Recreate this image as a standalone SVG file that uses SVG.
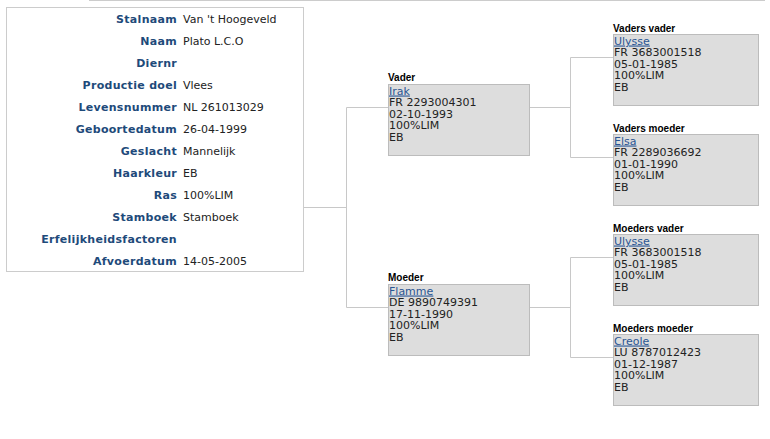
<svg xmlns="http://www.w3.org/2000/svg" width="770" height="439" viewBox="0 0 770 439">
<style>
text{font-family:"DejaVu Sans",Verdana,sans-serif;font-size:11px}
.lbl{font-weight:bold;fill:#1e4a7a;text-anchor:end;letter-spacing:0.3px}
.val{fill:#222}
.h{font-family:"Liberation Sans",Arial,sans-serif;font-size:10px;font-weight:bold;fill:#000}
.box{fill:#dddddd;stroke:#bcbcbc;stroke-width:1}
.lnk{fill:#2a5694;text-decoration:underline}
.t{fill:#222}
.con{stroke:#c8c8c8;stroke-width:1;fill:none}
</style>
<rect width="770" height="439" fill="#fff"/>
<line x1="89" y1="0.5" x2="765" y2="0.5" stroke="#cccccc"/>
<g id="info">
<rect x="6.5" y="7.5" width="297" height="264" fill="#fff" stroke="#cccccc"/>
<text class="lbl" x="177" y="23">Stalnaam</text><text class="val" x="183" y="23">Van 't Hoogeveld</text>
<text class="lbl" x="177" y="45">Naam</text><text class="val" x="183" y="45">Plato L.C.O</text>
<text class="lbl" x="177" y="67">Diernr</text>
<text class="lbl" x="177" y="89">Productie doel</text><text class="val" x="183" y="89">Vlees</text>
<text class="lbl" x="177" y="111">Levensnummer</text><text class="val" x="183" y="111">NL 261013029</text>
<text class="lbl" x="177" y="133">Geboortedatum</text><text class="val" x="183" y="133">26-04-1999</text>
<text class="lbl" x="177" y="155">Geslacht</text><text class="val" x="183" y="155">Mannelijk</text>
<text class="lbl" x="177" y="177">Haarkleur</text><text class="val" x="183" y="177">EB</text>
<text class="lbl" x="177" y="199">Ras</text><text class="val" x="183" y="199">100%LIM</text>
<text class="lbl" x="177" y="221">Stamboek</text><text class="val" x="183" y="221">Stamboek</text>
<text class="lbl" x="177" y="243">Erfelijkheidsfactoren</text>
<text class="lbl" x="177" y="265">Afvoerdatum</text><text class="val" x="183" y="265">14-05-2005</text>
</g>
<g id="connectors">
<polyline class="con" points="304,207.5 346.5,207.5"/>
<polyline class="con" points="388,107.5 346.5,107.5 346.5,307.5 388,307.5"/>
<polyline class="con" points="530,107.5 570.5,107.5"/>
<polyline class="con" points="613,57.5 570.5,57.5 570.5,157.5 613,157.5"/>
<polyline class="con" points="530,307.5 570.5,307.5"/>
<polyline class="con" points="613,257.5 570.5,257.5 570.5,357.5 613,357.5"/>
</g>
<g id="vader">
<text class="h" x="388" y="81">Vader</text>
<rect class="box" x="388.5" y="84.5" width="141" height="71"/>
<text class="lnk" x="389" y="94.5">Irak</text>
<text class="t" x="389" y="106">FR 2293004301</text>
<text class="t" x="389" y="117.5">02-10-1993</text>
<text class="t" x="389" y="129">100%LIM</text>
<text class="t" x="389" y="140.5">EB</text>
</g>
<g id="moeder">
<text class="h" x="388" y="281">Moeder</text>
<rect class="box" x="388.5" y="284.5" width="141" height="71"/>
<text class="lnk" x="389" y="294.5">Flamme</text>
<text class="t" x="389" y="306">DE 9890749391</text>
<text class="t" x="389" y="317.5">17-11-1990</text>
<text class="t" x="389" y="329">100%LIM</text>
<text class="t" x="389" y="340.5">EB</text>
</g>
<g id="vaders-vader">
<text class="h" x="613" y="31.5">Vaders vader</text>
<rect class="box" x="613.5" y="34.5" width="145" height="71"/>
<text class="lnk" x="614" y="44.5">Ulysse</text>
<text class="t" x="614" y="56">FR 3683001518</text>
<text class="t" x="614" y="67.5">05-01-1985</text>
<text class="t" x="614" y="79">100%LIM</text>
<text class="t" x="614" y="90.5">EB</text>
</g>
<g id="vaders-moeder">
<text class="h" x="613" y="131.5">Vaders moeder</text>
<rect class="box" x="613.5" y="134.5" width="145" height="71"/>
<text class="lnk" x="614" y="144.5">Elsa</text>
<text class="t" x="614" y="156">FR 2289036692</text>
<text class="t" x="614" y="167.5">01-01-1990</text>
<text class="t" x="614" y="179">100%LIM</text>
<text class="t" x="614" y="190.5">EB</text>
</g>
<g id="moeders-vader">
<text class="h" x="613" y="231.5">Moeders vader</text>
<rect class="box" x="613.5" y="234.5" width="145" height="71"/>
<text class="lnk" x="614" y="244.5">Ulysse</text>
<text class="t" x="614" y="256">FR 3683001518</text>
<text class="t" x="614" y="267.5">05-01-1985</text>
<text class="t" x="614" y="279">100%LIM</text>
<text class="t" x="614" y="290.5">EB</text>
</g>
<g id="moeders-moeder">
<text class="h" x="613" y="331.5">Moeders moeder</text>
<rect class="box" x="613.5" y="334.5" width="145" height="71"/>
<text class="lnk" x="614" y="344.5">Creole</text>
<text class="t" x="614" y="356">LU 8787012423</text>
<text class="t" x="614" y="367.5">01-12-1987</text>
<text class="t" x="614" y="379">100%LIM</text>
<text class="t" x="614" y="390.5">EB</text>
</g>
</svg>
